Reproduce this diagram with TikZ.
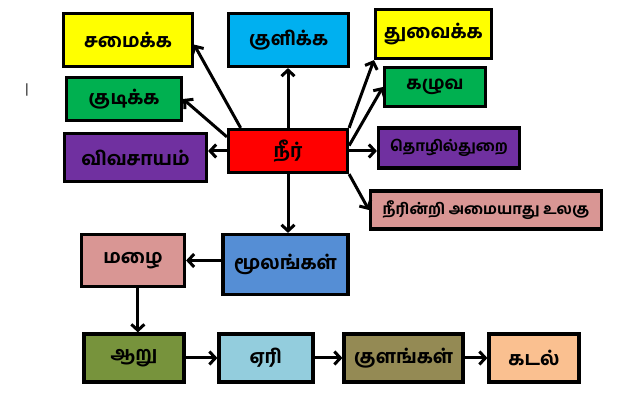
\documentclass[tikz,border=0pt]{standalone}
\usepackage{fontspec}
\newfontfamily\tamilfont[Script=Tamil, BoldFont={Hind Madurai Bold}]{Hind Madurai}
\usepackage{tikz}
\usetikzlibrary{arrows.meta, positioning}

\definecolor{cyellow}{RGB}{255,255,0}
\definecolor{ccyan}{RGB}{0,176,240}
\definecolor{cgreen}{RGB}{0,176,80}
\definecolor{cpurple}{RGB}{112,48,160}
\definecolor{cred}{RGB}{255,0,0}
\definecolor{cpink}{RGB}{217,150,148}
\definecolor{cblue}{RGB}{85,142,213}
\definecolor{colive}{RGB}{119,147,60}
\definecolor{clblue}{RGB}{147,205,221}
\definecolor{cbrown}{RGB}{148,138,84}
\definecolor{cpeach}{RGB}{250,192,144}

\begin{document}
\begin{tikzpicture}[
    x=1pt, y=1pt,
    box/.style={rectangle, draw, line width=3.2pt, inner sep=0pt, align=center, font=\tamilfont\bfseries\fontsize{19}{21}\selectfont},
    smallbox/.style={box, font=\tamilfont\bfseries\fontsize{15}{17}\selectfont},
    arrow/.style={-{Straight Barb[length=6pt, width=13pt]}, line width=3pt}
  ]
    \useasboundingbox (0,0) rectangle (640,419);

    % Centre
    \node[box, fill=cred, minimum width=119, minimum height=43] (neer) at (288,268) {நீர்};

    % Left uses
    \node[box, fill=cyellow, minimum width=129, minimum height=53] (samaikka) at (128,379) {சமைக்க};
    \node[box, fill=cgreen, minimum width=115, minimum height=43] (kudikka) at (124,320) {குடிக்க};
    \node[box, fill=cpurple, minimum width=142, minimum height=48] (vivasayam) at (135.5,261.5) {விவசாயம்};
    \node[box, fill=ccyan, minimum width=120, minimum height=53] (kulikka) at (288.5,379) {குளிக்க};

    % Right uses
    \node[box, fill=cyellow, minimum width=116, minimum height=49] (thuvaikka) at (433.5,385) {துவைக்க};
    \node[box, fill=cgreen, minimum width=101, minimum height=39, font=\tamilfont\bfseries\fontsize{18}{20}\selectfont] (kaluva) at (435,332) {கழுவ};
    \node[smallbox, fill=cpurple, minimum width=141, minimum height=40] (thozhil) at (449,271) {தொழில்துறை};
    \node[smallbox, fill=cpink, minimum width=231, minimum height=38] (neerindri) at (486,209) {நீரின்றி அமையாது உலகு};

    % Sources
    \node[box, fill=cblue, minimum width=125, minimum height=60] (moolangal) at (285.5,154.5) {மூலங்கள்};
    \node[box, fill=cpink, minimum width=103, minimum height=52] (mazhai) at (133,158.5) {மழை};

    % Bottom row
    \node[box, fill=colive, minimum width=100, minimum height=48] (aaru) at (134,61) {ஆறு};
    \node[box, fill=clblue, minimum width=94, minimum height=48] (eri) at (266,61) {ஏரி};
    \node[box, fill=cbrown, minimum width=119, minimum height=48] (kulangal) at (403.5,61) {குளங்கள்};
    \node[box, fill=cpeach, minimum width=90, minimum height=48] (kadal) at (534,61) {கடல்};

    % Stray mark
    \node[font=\tamilfont\fontsize{14}{16}\selectfont, inner sep=0pt] (cursor) at (27,329) {|};

    % Arrows
    \draw[arrow] (neer.154) -- (samaikka.-4);
    \draw[arrow] (neer.north) -- (neer.north |- kulikka.south);
    \draw[arrow] (neer.167) -- (kudikka.east);
    \draw[arrow] (neer.west) -- (neer.west -| vivasayam.east);
    \draw[arrow] (neer.north east) -- (thuvaikka.south west);
    \draw[arrow] (neer.5) -- (kaluva.west);
    \draw[arrow] (neer.east) -- (neer.east -| thozhil.west);
    \draw[arrow] (neer.south east) -- (neerindri.west);
    \draw[arrow] (neer.south) -- (neer.south |- moolangal.north);
    \draw[arrow] (mazhai.east -| moolangal.west) -- (mazhai.east);
    \draw[arrow] (mazhai.-80) -- (mazhai.-80 |- aaru.north);
    \draw[arrow] (aaru) -- (eri);
    \draw[arrow] (eri) -- (kulangal);
    \draw[arrow] (kulangal) -- (kadal);
  \end{tikzpicture}
\end{document}
